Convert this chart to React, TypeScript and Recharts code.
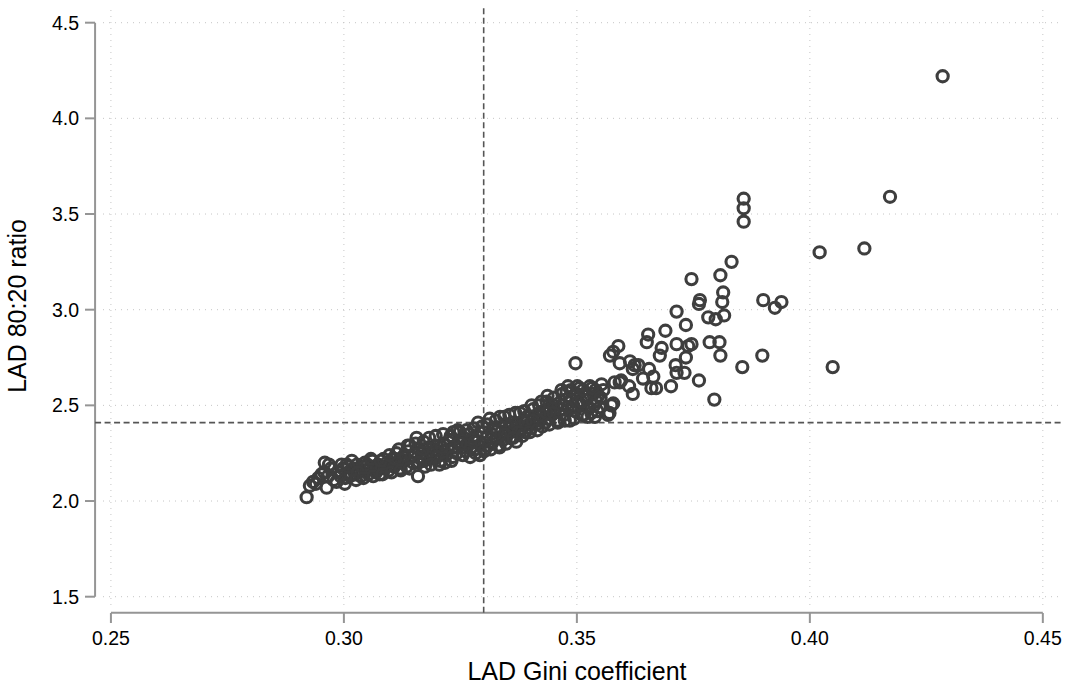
import { ReferenceLine, Scatter, ScatterChart, XAxis, YAxis } from 'recharts'

const FONT = '"Liberation Sans", Arial, Helvetica, sans-serif'
const MARK = '#3e3e3e'
const AXIS = '#959595'
const GRID = '#c6c6c6'
const DASH = '#555555'

const xTicks = [0.25, 0.3, 0.35, 0.4, 0.45]
const yTicks = [1.5, 2, 2.5, 3, 3.5, 4, 4.5]
const xDomain: [number, number] = [0.2483, 0.4539]
const yDomain: [number, number] = [1.4566, 4.582]

// where the offset axis lines sit, in data units
const xAxisLevel = 1.4164
const yAxisLevel = 0.2466

const giniMean = 0.33
const ratioMean = 2.41

// LAD Gini coefficient, 80:20 ratio
const lowerBand: [number, number][] = [
  [0.292, 2.02], [0.2927, 2.08], [0.2934, 2.1], [0.294, 2.09], [0.2945, 2.12], [0.2952, 2.14],
  [0.2959, 2.2], [0.2958, 2.15], [0.2963, 2.07], [0.2966, 2.13], [0.2972, 2.17], [0.2978, 2.11],
  [0.2984, 2.1], [0.2988, 2.15], [0.2993, 2.13], [0.2998, 2.17], [0.3003, 2.12], [0.3006, 2.19],
  [0.301, 2.15], [0.3013, 2.13], [0.3017, 2.21], [0.302, 2.17], [0.3024, 2.14], [0.3028, 2.19],
  [0.3032, 2.16], [0.3036, 2.13], [0.304, 2.18], [0.3045, 2.2], [0.3049, 2.16], [0.3053, 2.14],
  [0.3057, 2.18], [0.3061, 2.21], [0.3065, 2.17], [0.3069, 2.15], [0.3073, 2.19], [0.3077, 2.14],
  [0.3081, 2.18], [0.3085, 2.22], [0.3088, 2.17], [0.3092, 2.2], [0.3096, 2.16], [0.31, 2.19],
  [0.3104, 2.22], [0.3108, 2.18], [0.3113, 2.25], [0.3116, 2.2], [0.312, 2.17], [0.3124, 2.2],
  [0.3127, 2.23], [0.3131, 2.21], [0.3135, 2.18], [0.3138, 2.26], [0.3142, 2.29], [0.3145, 2.23],
  [0.3149, 2.2], [0.3152, 2.25], [0.3156, 2.33], [0.3159, 2.13], [0.3162, 2.27], [0.3165, 2.22],
  [0.3168, 2.25], [0.3172, 2.21], [0.3176, 2.24], [0.3181, 2.28], [0.3185, 2.22], [0.3189, 2.25],
  [0.3193, 2.23], [0.3196, 2.27], [0.3199, 2.29], [0.3203, 2.24], [0.3207, 2.21], [0.3211, 2.26],
  [0.3215, 2.3], [0.3219, 2.24], [0.3223, 2.27], [0.3227, 2.32], [0.3231, 2.21], [0.3235, 2.36],
  [0.3238, 2.28], [0.3242, 2.25], [0.3246, 2.31], [0.3249, 2.36], [0.3253, 2.28], [0.3257, 2.33],
  [0.3261, 2.26], [0.3265, 2.3], [0.3269, 2.35], [0.3273, 2.28], [0.3277, 2.32], [0.3281, 2.27],
  [0.3285, 2.34], [0.3288, 2.41], [0.3292, 2.24], [0.3295, 2.3], [0.3299, 2.36], [0.3303, 2.27],
  [0.301, 2.18], [0.305, 2.19], [0.309, 2.18], [0.313, 2.24], [0.317, 2.27], [0.321, 2.28],
  [0.325, 2.3], [0.328, 2.31], [0.32, 2.23], [0.316, 2.2], [0.311, 2.22], [0.307, 2.17], [0.303, 2.15],
  [0.2968, 2.19], [0.2995, 2.19], [0.3002, 2.09], [0.3026, 2.11], [0.3042, 2.12], [0.3058, 2.22],
  [0.3063, 2.13], [0.3079, 2.21], [0.3083, 2.14], [0.3098, 2.24], [0.3102, 2.15], [0.3118, 2.27],
  [0.3122, 2.16], [0.3137, 2.29], [0.3141, 2.17], [0.3154, 2.3], [0.3171, 2.31], [0.3174, 2.18],
  [0.3183, 2.33], [0.3187, 2.19], [0.3197, 2.34], [0.3205, 2.19], [0.3213, 2.35], [0.3217, 2.2],
  [0.3229, 2.34], [0.3233, 2.23], [0.3244, 2.37], [0.3255, 2.24], [0.3263, 2.37], [0.3271, 2.23],
  [0.3279, 2.38], [0.3283, 2.25], [0.3297, 2.39], [0.3301, 2.26],
]

const upperBand: [number, number][] = [
  [0.3306, 2.33], [0.331, 2.29], [0.3313, 2.43], [0.3317, 2.35], [0.332, 2.31], [0.3324, 2.38],
  [0.3328, 2.33], [0.3332, 2.29], [0.3335, 2.44], [0.3338, 2.36], [0.3342, 2.32], [0.3346, 2.4],
  [0.335, 2.35], [0.3353, 2.38], [0.3357, 2.33], [0.3361, 2.41], [0.3365, 2.37], [0.337, 2.31],
  [0.3373, 2.4], [0.3378, 2.46], [0.3381, 2.38], [0.3385, 2.42], [0.3389, 2.36], [0.3393, 2.44],
  [0.3397, 2.4], [0.3401, 2.38], [0.3406, 2.48], [0.3409, 2.43], [0.3413, 2.4], [0.3417, 2.45],
  [0.3421, 2.42], [0.3424, 2.52], [0.3428, 2.47], [0.3432, 2.41], [0.3435, 2.52], [0.3439, 2.43],
  [0.3443, 2.48], [0.3446, 2.45], [0.3449, 2.5], [0.3453, 2.47], [0.3457, 2.42], [0.3461, 2.51],
  [0.3465, 2.48], [0.3469, 2.56], [0.3472, 2.45], [0.3476, 2.53], [0.3481, 2.6], [0.3485, 2.42],
  [0.3489, 2.53], [0.3492, 2.5], [0.3496, 2.47], [0.3497, 2.72], [0.35, 2.56], [0.3503, 2.52],
  [0.3506, 2.59], [0.3508, 2.5], [0.3511, 2.45], [0.3514, 2.45], [0.3518, 2.55], [0.3521, 2.53],
  [0.3525, 2.49], [0.3528, 2.6], [0.3531, 2.46], [0.3535, 2.56], [0.3539, 2.44], [0.3542, 2.52],
  [0.3546, 2.55], [0.3549, 2.49], [0.3553, 2.61], [0.3557, 2.58], [0.3567, 2.45], [0.3574, 2.5],
  [0.333, 2.37], [0.336, 2.39], [0.339, 2.41], [0.342, 2.45], [0.345, 2.46], [0.348, 2.49],
  [0.351, 2.52], [0.354, 2.58], [0.3345, 2.35], [0.3375, 2.36], [0.3405, 2.42], [0.3435, 2.46],
  [0.3308, 2.4], [0.3315, 2.27], [0.3326, 2.42], [0.3334, 2.28], [0.3344, 2.44], [0.3348, 2.3],
  [0.3355, 2.45], [0.3363, 2.33], [0.3368, 2.46], [0.3383, 2.34], [0.3387, 2.47], [0.3399, 2.36],
  [0.3403, 2.5], [0.3415, 2.37], [0.3419, 2.5], [0.3426, 2.39], [0.3437, 2.55], [0.3441, 2.4],
  [0.3451, 2.54], [0.3459, 2.41], [0.3467, 2.58], [0.3474, 2.42], [0.3478, 2.57], [0.3487, 2.58],
  [0.3494, 2.43], [0.3501, 2.6], [0.3513, 2.58], [0.3523, 2.44], [0.3533, 2.59], [0.3544, 2.47],
  [0.3551, 2.54], [0.3537, 2.5],
]

const upperTail: [number, number][] = [
  [0.3571, 2.76], [0.3578, 2.78], [0.3589, 2.81], [0.3592, 2.72], [0.3578, 2.51], [0.357, 2.46],
  [0.3581, 2.62], [0.3592, 2.62], [0.3595, 2.63], [0.3612, 2.6], [0.362, 2.56], [0.3614, 2.73],
  [0.362, 2.69], [0.3624, 2.71], [0.3632, 2.71], [0.3642, 2.64], [0.365, 2.83], [0.3653, 2.87],
  [0.3655, 2.69], [0.366, 2.59], [0.3664, 2.65], [0.367, 2.59], [0.3678, 2.76], [0.3682, 2.8],
  [0.369, 2.89], [0.3702, 2.6], [0.3712, 2.71], [0.3714, 2.67], [0.3714, 2.82], [0.3714, 2.99],
  [0.3731, 2.67], [0.3734, 2.75], [0.3734, 2.92], [0.3739, 2.81], [0.3746, 2.82], [0.3746, 3.16],
  [0.3762, 2.63], [0.3764, 3.05], [0.3762, 3.03], [0.3782, 2.96], [0.3785, 2.83], [0.3795, 2.53],
  [0.3798, 2.95], [0.3806, 2.83], [0.3808, 3.18], [0.3808, 2.76], [0.3812, 3.04], [0.3814, 3.09],
  [0.3816, 2.97], [0.3832, 3.25], [0.3855, 2.7], [0.3858, 3.58], [0.3858, 3.53], [0.3858, 3.46],
  [0.3898, 2.76], [0.39, 3.05], [0.3925, 3.01], [0.3939, 3.04],
]

const outliers: [number, number][] = [
  [0.4021, 3.3], [0.4049, 2.7], [0.4117, 3.32], [0.4172, 3.59], [0.4285, 4.22],
]

const points = [...lowerBand, ...upperBand, ...upperTail, ...outliers].map(([x, y]) => ({ x, y }))

function renderXTick(props: any) {
  const { x, y, payload } = props
  return (
    <g>
      <line x1={x} y1={y + 8} x2={x} y2={y + 18} stroke={AXIS} strokeWidth={2} />
      <text x={x} y={y + 40} textAnchor="middle" fontSize={19.5} fill="#000" fontFamily={FONT}>
        {payload.value.toFixed(2)}
      </text>
    </g>
  )
}

function renderYTick(props: any) {
  const { x, y, payload } = props
  return (
    <g>
      <line x1={x - 18} y1={y} x2={x - 8} y2={y} stroke={AXIS} strokeWidth={2} />
      <text x={x - 24} y={y + 7} textAnchor="end" fontSize={19.5} fill="#000" fontFamily={FONT}>
        {payload.value.toFixed(1)}
      </text>
    </g>
  )
}

function renderRing(props: any) {
  return <circle cx={props.cx} cy={props.cy} r={5.6} fill="none" stroke={MARK} strokeWidth={3.1} />
}

export default function App() {
  return (
    <div style={{ position: 'absolute', left: 0, top: 0, background: '#fff' }}>
      <ScatterChart width={1071} height={686} margin={{ top: 7, right: 10, bottom: 0, left: 0 }}>
        <XAxis
          type="number"
          dataKey="x"
          domain={xDomain}
          ticks={xTicks}
          interval={0}
          allowDataOverflow
          axisLine={false}
          tickLine={false}
          tickSize={0}
          tickMargin={0}
          height={81}
          tick={renderXTick}
          label={{
            value: 'LAD Gini coefficient',
            position: 'insideBottom',
            offset: 6,
            dx: -5,
            fontSize: 25,
            fill: '#000',
            fontFamily: FONT,
          }}
        />
        <YAxis
          type="number"
          dataKey="y"
          domain={yDomain}
          ticks={yTicks}
          interval={0}
          allowDataOverflow
          axisLine={false}
          tickLine={false}
          tickSize={0}
          tickMargin={0}
          width={103}
          tick={renderYTick}
          label={{
            value: 'LAD 80:20 ratio',
            angle: -90,
            position: 'insideLeft',
            offset: 17,
            fontSize: 25,
            fill: '#000',
            fontFamily: FONT,
            style: { textAnchor: 'middle' },
          }}
        />
        {yTicks.map((t) => (
          <ReferenceLine key={`gy${t}`} y={t} stroke={GRID} strokeDasharray="1 5" ifOverflow="visible" />
        ))}
        {xTicks.map((t) => (
          <ReferenceLine key={`gx${t}`} x={t} stroke={GRID} strokeDasharray="1 5" ifOverflow="visible" />
        ))}
        <ReferenceLine
          segment={[{ x: 0.25, y: xAxisLevel }, { x: 0.45, y: xAxisLevel }]}
          stroke={AXIS}
          strokeWidth={2}
          ifOverflow="visible"
        />
        <ReferenceLine
          segment={[{ x: yAxisLevel, y: 1.5 }, { x: yAxisLevel, y: 4.5 }]}
          stroke={AXIS}
          strokeWidth={2}
          ifOverflow="visible"
        />
        <ReferenceLine
          segment={[{ x: giniMean, y: xAxisLevel }, { x: giniMean, y: yDomain[1] }]}
          stroke={DASH}
          strokeWidth={1.6}
          strokeDasharray="6 3.5"
          ifOverflow="visible"
        />
        <ReferenceLine
          segment={[{ x: yAxisLevel, y: ratioMean }, { x: xDomain[1], y: ratioMean }]}
          stroke={DASH}
          strokeWidth={1.6}
          strokeDasharray="6 3.5"
          ifOverflow="visible"
        />
        <Scatter data={points} isAnimationActive={false} shape={renderRing} />
      </ScatterChart>
    </div>
  )
}
